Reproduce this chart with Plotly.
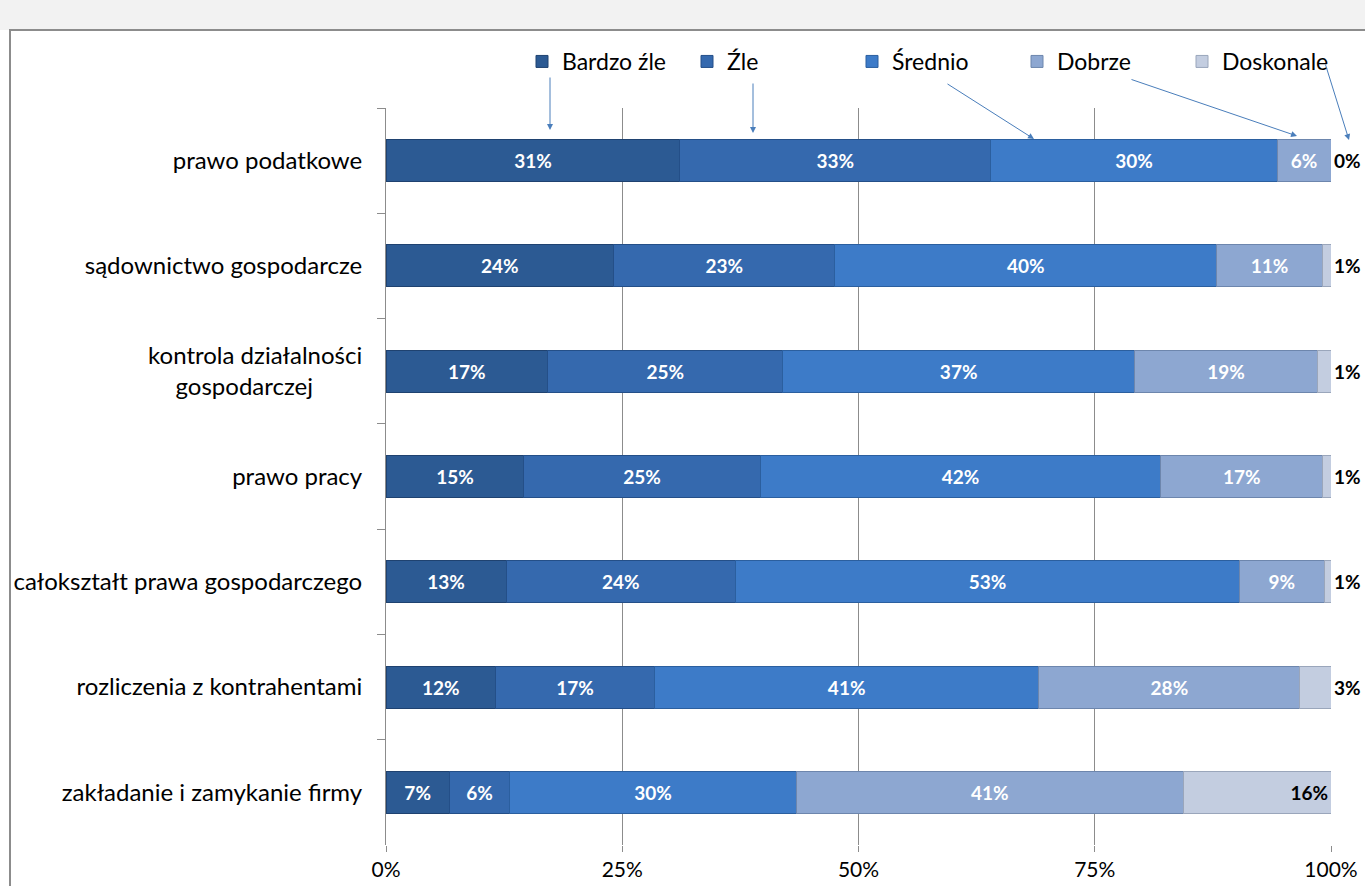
import plotly.graph_objects as go

categories = [
    "prawo podatkowe",
    "sądownictwo gospodarcze",
    "kontrola działalności<br>gospodarczej" + "\u00a0" * 8,
    "prawo pracy",
    "całokształt prawa gospodarczego",
    "rozliczenia z kontrahentami",
    "zakładanie i zamykanie firmy",
]
series_names = ["Bardzo źle", "Źle", "Średnio", "Dobrze", "Doskonale"]
bardzo_zle = [31.1, 24.1, 17.1, 14.6, 12.7, 11.6, 6.7]
zle = [32.9, 23.4, 24.9, 25.0, 24.3, 16.8, 6.4]
srednio = [30.3, 40.4, 37.2, 42.4, 53.3, 40.7, 30.3]
dobrze = [5.7, 11.2, 19.4, 17.1, 9.0, 27.6, 41.0]
doskonale = [0.0, 0.9, 1.4, 0.9, 0.7, 3.3, 15.6]
x_ticks = [0, 25, 50, 75, 100]
x_tick_labels = ["0%", "25%", "50%", "75%", "100%"]

colors = ["#2c5a93", "#3569ae", "#3d7bc8", "#8da7d1", "#c3cde0"]
edge = ["#1f4270", "#244f88", "#2b5f9f", "#6d86ad", "#9aa6bb"]
FONT = "Lato"

fig = go.Figure()
all_vals = [bardzo_zle, zle, srednio, dobrze, doskonale]
for i, (name, vals) in enumerate(zip(series_names, all_vals)):
    if i < 4:
        tp = "inside"
        tcolor = "white"
        anchor = "middle"
    else:
        tp = ["outside"] * 6 + ["inside"]
        tcolor = "black"
        anchor = "end"
    fig.add_trace(go.Bar(
        name=name, y=categories, x=vals, orientation="h",
        marker=dict(color=colors[i], line=dict(color=edge[i], width=1)),
        texttemplate="<b>%{x:.0f}%</b>", textposition=tp,
        insidetextanchor=anchor, constraintext="none",
        textfont=dict(family=FONT, size=19, color=tcolor),
        outsidetextfont=dict(family=FONT, size=19, color=tcolor),
        cliponaxis=False,
    ))

# paper helpers (plot area 386..1331 x, 108..845 y)
def px2x(px):
    return (px - 386) / 945.0

def py2y(py):
    return (845 - py) / 737.0

shapes = [
    dict(type="rect", xref="paper", yref="paper", x0=px2x(0), x1=px2x(1365),
         y0=py2y(30), y1=py2y(0), fillcolor="#f2f2f2", line=dict(width=0), layer="below"),
    dict(type="path", xref="paper", yref="paper",
         path=f"M {px2x(10)} {py2y(890)} L {px2x(10)} {py2y(30)} L {px2x(1370)} {py2y(30)}",
         line=dict(color="#8c8c8c", width=2)),
]

arrows = [
    (550, 130, 550, 76), (753, 133, 753, 82), (1034, 139, 946, 83),
    (1297, 136, 1130, 79), (1349, 140, 1325, 63),
]
annotations = []
for hx, hy, tx, ty in arrows:
    annotations.append(dict(
        x=px2x(hx), y=py2y(hy), xref="paper", yref="paper", text="",
        showarrow=True, ax=tx - hx, ay=ty - hy, arrowhead=2, arrowsize=1.2,
        arrowwidth=1, arrowcolor="#4a7ebb"))

fig.update_layout(
    barmode="stack", bargap=0.6,
    width=1365, height=886,
    margin=dict(l=386, r=34, t=108, b=41, autoexpand=False),
    paper_bgcolor="white", plot_bgcolor="white",
    font=dict(family=FONT, size=18, color="black"),
    showlegend=True,
    legend=dict(orientation="h", x=px2x(522), y=py2y(40), xanchor="left", yanchor="top",
                entrywidth=120, font=dict(family=FONT, size=23, color="black"),
                bgcolor="rgba(0,0,0,0)", traceorder="normal"),
    shapes=shapes, annotations=annotations,
)
fig.update_xaxes(range=[0, 100.0005], tickvals=x_ticks, ticktext=x_tick_labels,
                 showgrid=True, gridcolor="#8c8c8c", gridwidth=1, automargin=False,
                 zeroline=False, showline=False, ticks="outside", ticklen=6,
                 tickcolor="#8c8c8c", tickfont=dict(family=FONT, size=21, color="black"))
fig.update_yaxes(autorange="reversed", showline=True, linecolor="#8c8c8c", linewidth=1,
                 ticks="outside", ticklen=8, tickcolor="#8c8c8c", tickson="boundaries",
                 showgrid=False, ticklabelstandoff=18, automargin=False,
                 tickfont=dict(family=FONT, size=24, color="black"))

fig.write_html("out.html", config={"displayModeBar": False},
               post_script="document.body.style.margin='0';document.body.style.overflow='hidden';")
